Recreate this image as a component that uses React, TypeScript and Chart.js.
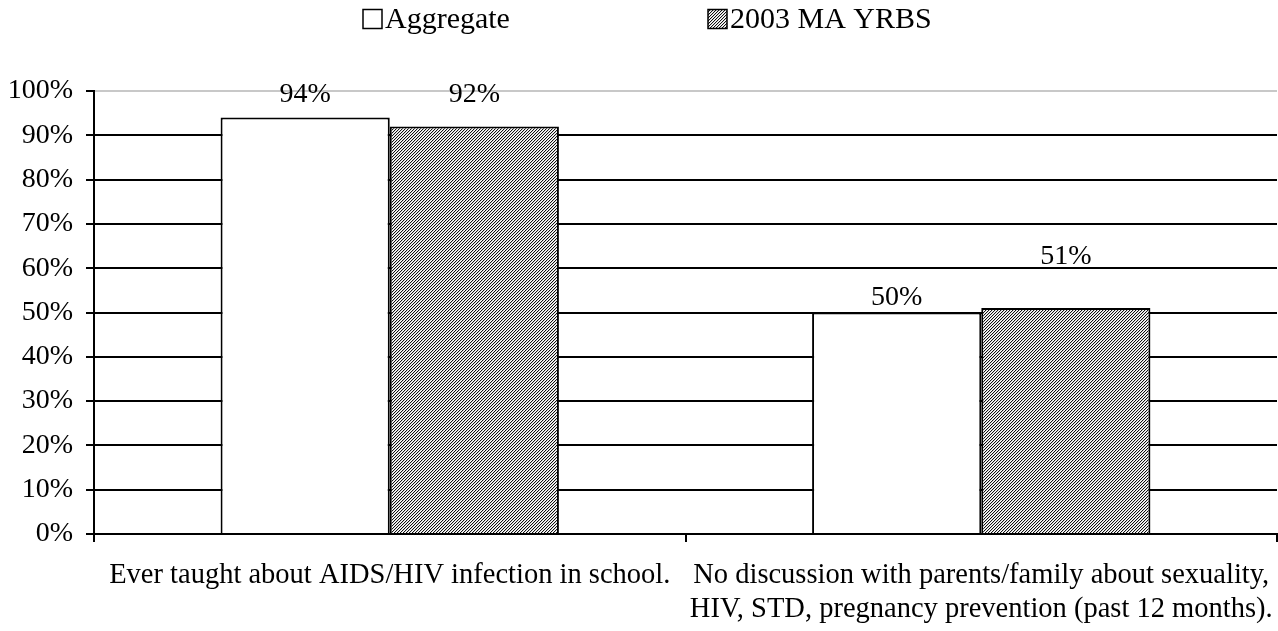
import React, { useEffect, useRef } from "react";
import { Chart, registerables } from "chart.js";

Chart.register(...registerables);

const categories: (string | string[])[] = [
  "Ever taught about AIDS/HIV infection in school.",
  ["No discussion with parents/family about sexuality,", "HIV, STD, pregnancy prevention (past 12 months)."],
];
const seriesNames = ["Aggregate", "2003 MA YRBS"];
const aggregateValues = [94, 50];
const yrbsValues = [92, 51];
const yTicks = [0, 10, 20, 30, 40, 50, 60, 70, 80, 90, 100];

// style: how far above each bar top its value label sits (px), [dataset][category]
const LABEL_LIFT = [
  [23, 15],
  [32, 51],
];

const FONT = "'Liberation Serif', 'Times New Roman', serif";

function makePattern(): CanvasPattern | string {
  const n = 3;
  const c = document.createElement("canvas");
  c.width = n;
  c.height = n;
  const g = c.getContext("2d");
  if (!g) return "#999";
  g.fillStyle = "#ffffff";
  g.fillRect(0, 0, n, n);
  for (let i = 0; i < n; i++) {
    g.fillStyle = "#111111";
    g.fillRect(i, n - 1 - i, 1, 1);
    g.fillStyle = "#d0d0d0";
    g.fillRect((i + 1) % n, n - 1 - i, 1, 1);
  }
  const p = g.createPattern(c, "repeat");
  return p || "#999";
}

export default function App() {
  const ref = useRef<HTMLCanvasElement | null>(null);

  useEffect(() => {
    if (!ref.current) return;
    const pattern = makePattern();

    const labelPlugin = {
      id: "valueLabels",
      afterDatasetsDraw(chart: any) {
        const ctx = chart.ctx;
        ctx.save();
        ctx.font = `28px ${FONT}`;
        ctx.fillStyle = "#000";
        ctx.textAlign = "center";
        ctx.textBaseline = "middle";
        chart.data.datasets.forEach((ds: any, di: number) => {
          const meta = chart.getDatasetMeta(di);
          meta.data.forEach((el: any, i: number) => {
            const v = ds.data[i];
            ctx.fillText(`${v}%`, el.x, el.y - LABEL_LIFT[di][i]);
          });
        });
        ctx.restore();
      },
    };

    const legendPlugin = {
      id: "customLegend",
      afterDraw(chart: any) {
        const ctx = chart.ctx;
        ctx.save();
        ctx.font = `30px ${FONT}`;
        ctx.textBaseline = "middle";
        ctx.textAlign = "left";
        const starts = [363, 708];
        const cy = 19;
        const box = 19;
        chart.data.datasets.forEach((ds: any, di: number) => {
          const x = starts[di];
          ctx.fillStyle = ds.backgroundColor;
          ctx.fillRect(x, cy - box / 2, box, box);
          ctx.strokeStyle = "#000";
          ctx.lineWidth = 1.5;
          ctx.strokeRect(x, cy - box / 2, box, box);
          ctx.fillStyle = "#000";
          ctx.fillText(ds.label, x + box + 3, cy + 1);
        });
        ctx.restore();
      },
    };

    const chart = new Chart(ref.current, {
      type: "bar",
      data: {
        labels: categories,
        datasets: [
          {
            label: seriesNames[0],
            data: aggregateValues,
            backgroundColor: "#ffffff",
            borderColor: "#000000",
            borderWidth: 2,
          },
          {
            label: seriesNames[1],
            data: yrbsValues,
            backgroundColor: pattern as any,
            borderColor: "#000000",
            borderWidth: 2,
          },
        ],
      },
      options: {
        animation: false,
        responsive: true,
        maintainAspectRatio: false,
        layout: { padding: { left: 0, right: 1, top: 91, bottom: 0 } },
        datasets: { bar: { categoryPercentage: 0.572, barPercentage: 1 } },
        plugins: {
          legend: { display: false },
          tooltip: { enabled: false },
          title: { display: false },
        },
        scales: {
          x: {
            afterFit(scale: any) {
              scale.height = 97;
              scale.paddingLeft = 0;
              scale.paddingRight = 0;
            },
            grid: {
              display: true,
              drawOnChartArea: false,
              offset: true,
              color: "#000",
              tickColor: "#000",
              tickLength: 8,
              lineWidth: 2,
            },
            border: { color: "#000", width: 2 },
            ticks: {
              color: "#000",
              font: { family: FONT, size: 28.5, lineHeight: 1.17 },
              padding: 17,
              maxRotation: 0,
              autoSkip: false,
            },
          },
          y: {
            min: 0,
            max: 100,
            afterBuildTicks(scale: any) {
              scale.ticks = yTicks.map((v) => ({ value: v }));
            },
            afterFit(scale: any) {
              scale.width = 94;
            },
            grid: {
              color: (c: any) => (c.tick && c.tick.value === 100 ? "#c8c8c8" : "#000"),
              tickColor: "#000",
              tickLength: 8,
              lineWidth: 2,
            },
            border: { color: "#000", width: 2 },
            ticks: {
              color: "#000",
              font: { family: FONT, size: 28 },
              padding: 13,
              callback: (v: any) => `${v}%`,
            },
          },
        },
      },
      plugins: [labelPlugin, legendPlugin],
    });

    return () => chart.destroy();
  }, []);

  return (
    <div style={{ position: "absolute", left: 0, top: 0, width: 1278, height: 631 }}>
      <canvas ref={ref} />
    </div>
  );
}
